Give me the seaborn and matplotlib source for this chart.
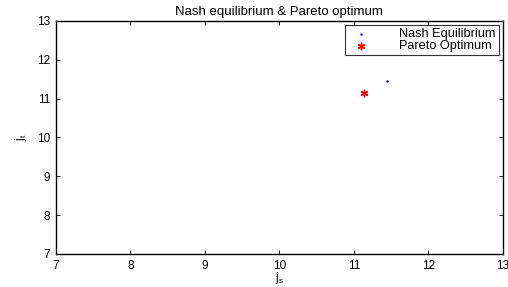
import seaborn as sns
import matplotlib.pyplot as plt

sns.set_style("ticks")
plt.rcParams['font.family'] = ['Liberation Sans', 'DejaVu Sans']
plt.rcParams['text.color'] = 'black'
plt.rcParams['axes.labelcolor'] = 'black'
plt.rcParams['xtick.color'] = 'black'
plt.rcParams['ytick.color'] = 'black'
plt.rcParams['axes.edgecolor'] = 'black'

# data
labels = ["Nash Equilibrium", "Pareto Optimum"]
js_vals = [11.44, 11.13]
jt_vals = [11.45, 11.14]

fig = plt.figure(figsize=(5.08, 2.87), dpi=100)
ax = fig.add_axes([0.110, 0.115, 0.880, 0.812])

sns.scatterplot(x=[js_vals[0]], y=[jt_vals[0]], color="blue", marker="o",
                s=3, linewidth=0, ax=ax, label=labels[0])
sns.scatterplot(x=[js_vals[1]], y=[jt_vals[1]], color="red", marker=(6, 2, 0),
                s=22, linewidth=1.0, edgecolor="red", ax=ax, label=labels[1])

ax.set_xlim(7, 13)
ax.set_ylim(7, 13)
ax.set_xticks(range(7, 14))
ax.set_yticks(range(7, 14))
ax.tick_params(direction="in", top=True, right=True, labelsize=8.5, length=3, width=0.6, pad=4)
for s in ax.spines.values():
    s.set_linewidth(1.0)
ax.set_xlabel("j$_\\mathregular{s}$", fontsize=8.5, labelpad=-1)
ax.set_ylabel("j$_\\mathregular{t}$", fontsize=8.5, labelpad=6)
ax.set_title("Nash equilibrium & Pareto optimum", fontsize=9.5, pad=4)

leg = ax.legend(loc="upper right", fontsize=9.2, frameon=True, fancybox=False,
                edgecolor="black", borderpad=0.25, labelspacing=0.0,
                handletextpad=2.0, borderaxespad=0.3, markerscale=1.0,
                handlelength=2.0)
leg.get_frame().set_linewidth(0.8)

fig.savefig("out.png", dpi=100)
